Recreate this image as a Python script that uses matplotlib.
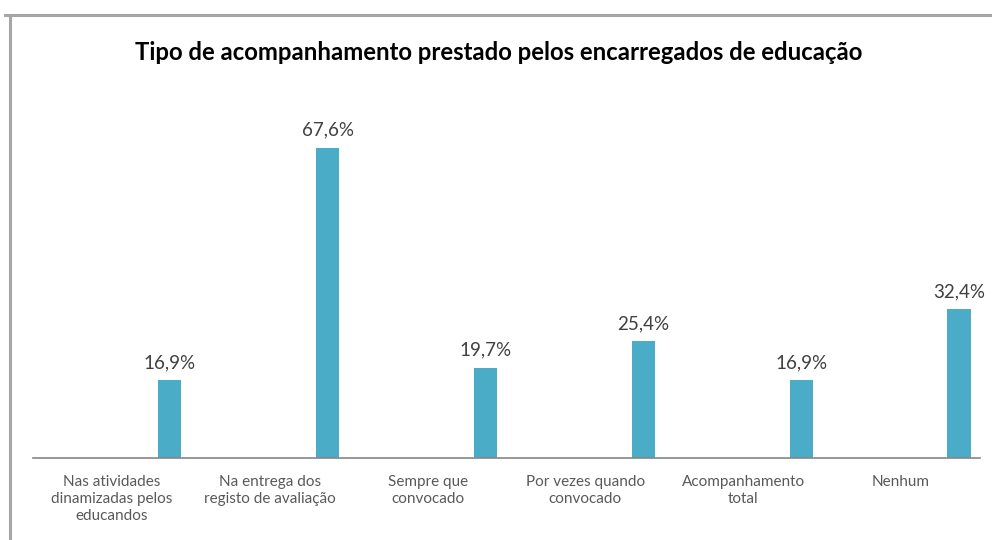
import matplotlib
matplotlib.use("Agg")
import matplotlib.pyplot as plt
from matplotlib.lines import Line2D
import numpy as np

title = "Tipo de acompanhamento prestado pelos encarregados de educação"
categories = [
    "Nas atividades\ndinamizadas pelos\neducandos",
    "Na entrega dos\nregisto de avaliação",
    "Sempre que\nconvocado",
    "Por vezes quando\nconvocado",
    "Acompanhamento\ntotal",
    "Nenhum",
]
values = [16.9, 67.6, 19.7, 25.4, 16.9, 32.4]
value_labels = ["16,9%", "67,6%", "19,7%", "25,4%", "16,9%", "32,4%"]

plt.rcParams['font.family'] = ['Lato', 'DejaVu Sans']

fig = plt.figure(figsize=(9.92, 5.4), dpi=100)
ax = fig.add_axes([33/992, (540-458)/540, (980-33)/992, (458-91)/540])

x = np.arange(len(categories))
bar_x = x + 0.367
ax.bar(bar_x, values, width=0.146, color="#4AACC6", zorder=2)
for bx, v, lab in zip(bar_x, values, value_labels):
    ax.text(bx, v + 2.0, lab, ha="center", va="bottom", fontsize=13.5, color="#404040")

ax.set_xlim(-0.5, len(categories) - 0.5)
ax.set_ylim(0, 80)
ax.set_yticks([])
ax.set_xticks(x)
ax.set_xticklabels(categories, fontsize=11, color="#595959", linespacing=1.3)
ax.tick_params(axis="x", length=0, pad=12)
for s in ["top", "right", "left"]:
    ax.spines[s].set_visible(False)
ax.spines["bottom"].set_color("#868686")
ax.spines["bottom"].set_linewidth(1.2)

fig.text(499/992, 1 - 53/540, title, ha="center", va="center", fontsize=17.2,
         fontweight="bold", color="#000000")

# chart frame
fig.add_artist(Line2D([5/992, 1.0], [1 - 15/540, 1 - 15/540], color="#A6A6A6", linewidth=2.2))
fig.add_artist(Line2D([10/992, 10/992], [0, 1 - 15/540], color="#A6A6A6", linewidth=2.2))

fig.savefig("out.png", dpi=100)
